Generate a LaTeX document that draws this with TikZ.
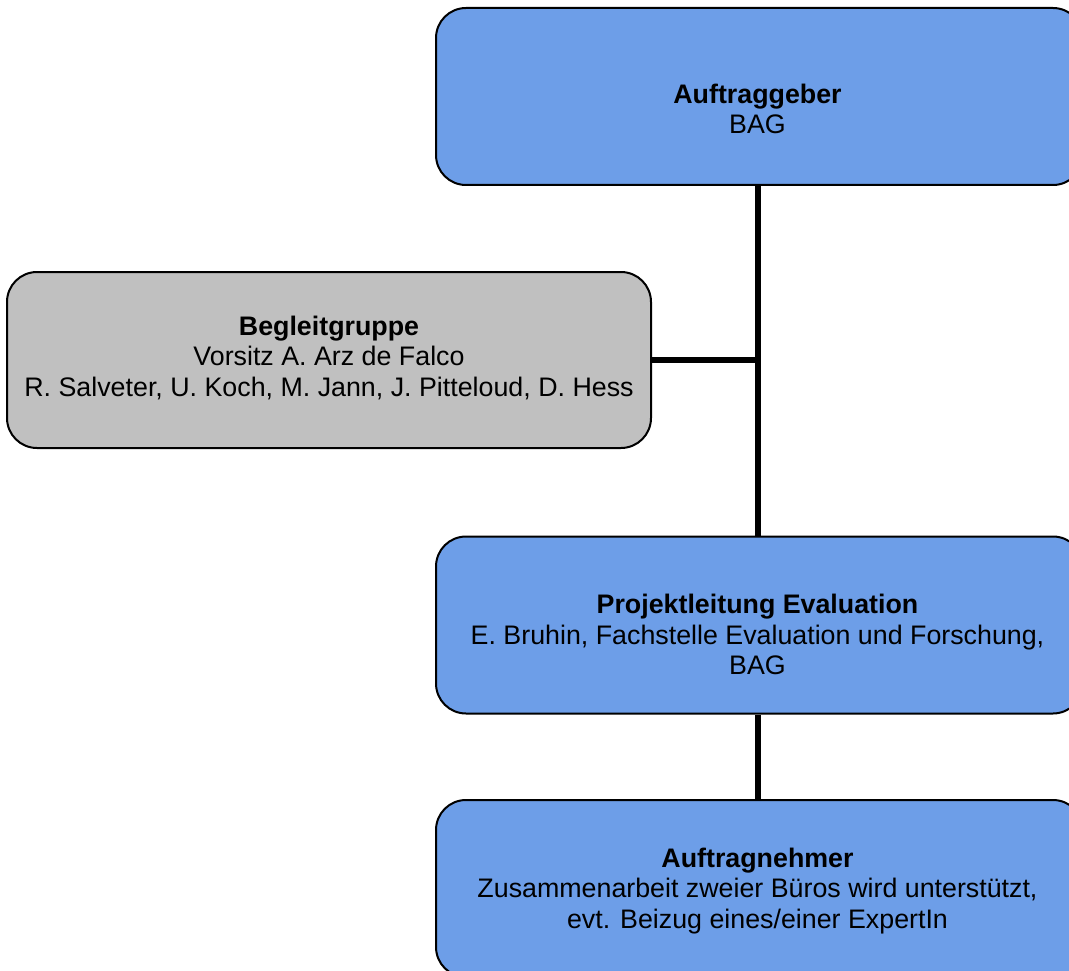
\documentclass[tikz,border=0pt]{standalone}
\usepackage{fontspec}
\setmainfont{Liberation Sans}
\usepackage{tikz}
\usetikzlibrary{calc,positioning}
\definecolor{kastenblau}{RGB}{109,158,232}
\definecolor{kastengrau}{RGB}{192,192,192}
\tikzset{
  kasten/.style={draw=black,line width=2pt,rounded corners=30pt,minimum width=647pt,minimum height=177pt,inner sep=0pt},
  blau/.style={kasten,fill=kastenblau},
  grau/.style={kasten,fill=kastengrau,minimum width=644pt,minimum height=176pt},
  txt/.style={align=center,anchor=base,inner sep=0pt,font={\fontsize{26.8}{30.5}\selectfont}},
  linie/.style={line width=5.5pt}
}
\begin{document}
\begin{tikzpicture}[x=1pt,y=-1pt]
\clip (0,0) rectangle (1069,971);
\useasboundingbox (0,0) rectangle (1069,971);
\node[blau] (auftraggeber) at (759.5,96.5) {};
\node[grau] (begleitgruppe) at (329,360) {};
\node[blau] (projektleitung) at (759.5,625) {};
\node[blau] (auftragnehmer) at (759.5,888.5) {};
% Text: Anker auf der letzten Grundlinie
\node[txt] (auftraggebertxt) at ($(auftraggeber.north)+(-2,127)$) {\textbf{Auftraggeber}\\BAG};
\node[txt] (begleitgruppetxt) at ($(begleitgruppe.north)+(0,125)$) {\textbf{Begleitgruppe}\\Vorsitz A. Arz de Falco\\R. Salveter, U. Koch, M. Jann, J. Pitteloud, D. Hess};
\node[txt] (projektleitungtxt) at ($(projektleitung.north)+(-2,139)$) {\textbf{Projektleitung Evaluation}\\E. Bruhin, Fachstelle Evaluation und Forschung,\\BAG};
\node[txt] (auftragnehmertxt) at ($(auftragnehmer.north)+(-2,129)$) {\textbf{Auftragnehmer}\\Zusammenarbeit zweier Büros wird unterstützt,\\evt. Beizug eines/einer ExpertIn};
\coordinate (knick) at ($(auftraggeber.south)!(begleitgruppe.east)!(projektleitung.north)$);
\draw[linie] ([xshift=-1.5pt]auftraggeber.south) -- ([xshift=-1.5pt]projektleitung.north);
\draw[linie] (begleitgruppe.east) -- ([xshift=-1.5pt]knick);
\draw[linie] ([xshift=-1.5pt]projektleitung.south) -- ([xshift=-1.5pt]auftragnehmer.north);
\end{tikzpicture}
\end{document}
